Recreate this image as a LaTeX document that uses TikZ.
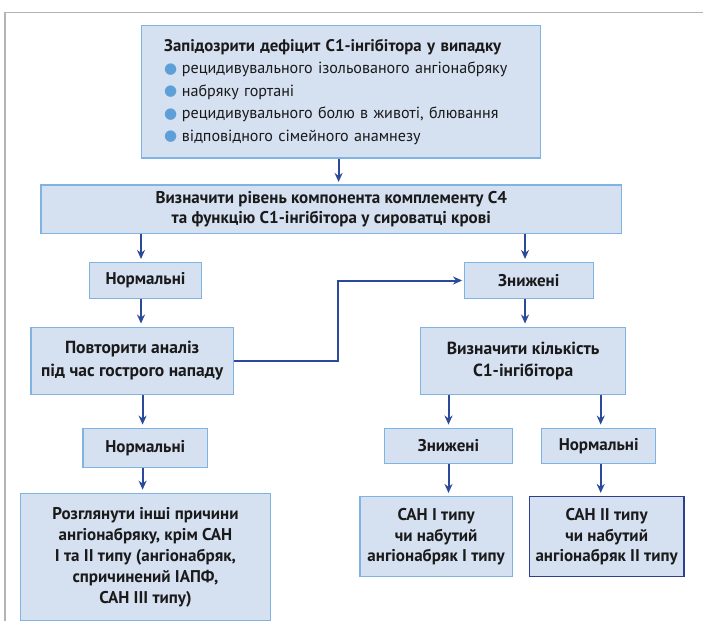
\documentclass[tikz,border=0pt]{standalone}
\usepackage{fontspec}
\setmainfont{PT Sans}
\newfontfamily\dejavusym{DejaVu Sans}
\usetikzlibrary{arrows.meta,calc}
\definecolor{boxfill}{HTML}{D5E0F1}
\definecolor{boxline}{HTML}{7FB3E1}
\definecolor{arrowc}{HTML}{2C4A9A}
\definecolor{bulc}{HTML}{5E9FD8}
\definecolor{navyline}{HTML}{2E3F8E}
\definecolor{framec}{HTML}{B4B4B4}
\definecolor{txt}{HTML}{1A1A1A}
\newcommand\bulitem{\makebox[17.7pt][l]{{\dejavusym\fontsize{15}{15}\selectfont\color{bulc}\raisebox{0.5pt}{●}}}}
\hbadness=10000 \hfuzz=200pt
\begin{document}
\begin{tikzpicture}[x=1pt,y=-1pt,
  box/.style={draw=boxline, fill=boxfill, line width=1.5pt, inner sep=0pt, align=center, text=txt, font=\bfseries\fontsize{17}{21}\selectfont},
  arr/.style={draw=arrowc, line width=2pt, -{Stealth[length=9pt,width=8pt]}, shorten >=3pt},
]
\useasboundingbox (0,0) rectangle (703,621);
\draw[framec, line width=1.3pt] (5,621) -- (5,12.7) -- (703,12.7);

\node[box, minimum width=399pt, minimum height=132.3pt, text width=354pt, align=left, font=\fontsize{16.1}{22.5}\selectfont] (top) at (341.2,91.85) {%
\mbox{\bfseries\fontsize{16.8}{22.5}\selectfont Запідозрити дефіцит С1-інгібітора у випадку}\\
\mbox{\bulitem рецидивувального ізольованого ангіонабряку}\\
\mbox{\bulitem набряку гортані}\\
\mbox{\bulitem рецидивувального болю в животі, блювання}\\
\mbox{\bulitem відповідного сімейного анамнезу}};

\node[box, minimum width=580.7pt, minimum height=48.3pt, font=\bfseries\fontsize{17}{20}\selectfont] (box2) at (331.35,209.15)
  {Визначити рівень компонента комплементу С4\\та функцію С1-інгібітора у сироватці крові};

\node[box, minimum width=112.4pt, minimum height=35.6pt] (n1) at (145.5,280.5) {Нормальні};
\node[box, minimum width=129pt, minimum height=35.6pt] (z1) at (528.8,280.5) {Знижені};

\node[box, minimum width=202.3pt, minimum height=67pt, font=\bfseries\fontsize{17.5}{22.5}\selectfont] (rep) at (132.15,360.8)
  {Повторити аналіз\\під час гострого нападу};
\node[box, minimum width=204.8pt, minimum height=67pt, font=\bfseries\fontsize{17.5}{22.5}\selectfont] (count) at (523.1,360.8)
  {Визначити кількість\\С1-інгібітора};

\node[box, minimum width=124.6pt, minimum height=39.4pt] (n2) at (145.3,448) {Нормальні};
\node[box, minimum width=128.4pt, minimum height=35pt] (z2) at (448.5,445.8) {Знижені};
\node[box, minimum width=114pt, minimum height=35pt] (n3) at (598.7,445.8) {Нормальні};

\node[box, minimum width=249.8pt, minimum height=127pt] (other) at (145.5,556.9)
  {Розглянути інші причини\\ангіонабряку, крім САН\\І та ІІ типу (ангіонабряк,\\спричинений ІАПФ,\\САН ІІІ типу)};
\node[box, minimum width=152.3pt, minimum height=80pt, font=\bfseries\fontsize{17}{20.5}\selectfont] (san1) at (436.15,536.7)
  {САН І типу\\чи набутий\\ангіонабряк І типу};
\node[box, draw=navyline, minimum width=154.7pt, minimum height=80pt, font=\bfseries\fontsize{17}{20.5}\selectfont] (san2) at (606.65,536.7)
  {САН ІІ типу\\чи набутий\\ангіонабряк ІІ типу};

\draw[arr, shorten >=2.3pt] ([xshift=-2.6pt]top.south) -- ([xshift=-2.6pt]top.south |- box2.north);
\draw[arr] ([xshift=-4.5pt]n1.north |- box2.south) -- ([xshift=-4.5pt]n1.north);
\draw[arr] ([xshift=-3.8pt]z1.north |- box2.south) -- ([xshift=-3.8pt]z1.north);
\draw[arr] ([xshift=-4.5pt]n1.south) -- ([xshift=-4.5pt]n1.south |- rep.north);
\draw[arr] ([xshift=-3.8pt]z1.south) -- ([xshift=-3.8pt]z1.south |- count.north);
\draw[arr, shorten >=1.5pt] (rep.east) -- ++(104.4,0) |- (z1.west);
\draw[arr] ([xshift=-2.7pt]n2.north |- rep.south) -- ([xshift=-2.7pt]n2.north);
\draw[arr] ([xshift=-2.7pt]n2.south) -- ([xshift=-2.7pt]n2.south |- other.north);
\draw[arr] (z2.north |- count.south) -- (z2.north);
\draw[arr] ([xshift=2pt]n3.north |- count.south) -- ([xshift=2pt]n3.north);
\draw[arr] (z2.south) -- (z2.south |- san1.north);
\draw[arr] ([xshift=2pt]n3.south) -- ([xshift=2pt]n3.south |- san2.north);
\end{tikzpicture}
\end{document}
